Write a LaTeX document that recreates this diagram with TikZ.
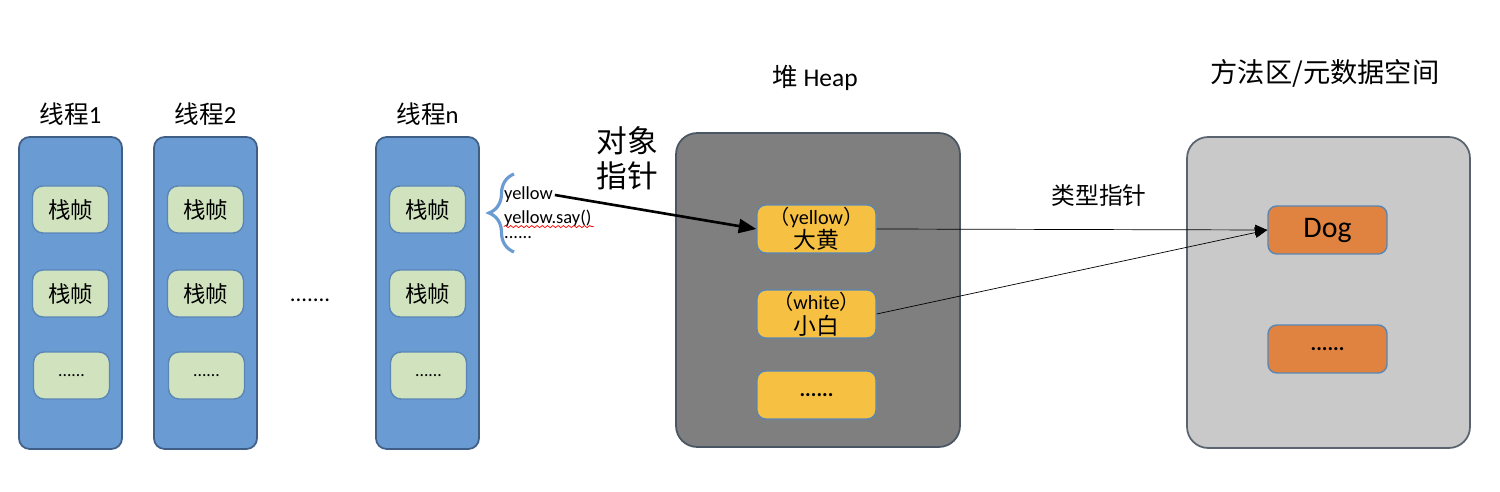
\documentclass[tikz,border=0pt]{standalone}
\usepackage{fontspec}
\setmainfont{Carlito}
\newfontfamily\cjk{Noto Sans CJK SC}
\usepackage{tikz}
\usetikzlibrary{positioning, arrows.meta, decorations.pathreplacing, decorations.pathmorphing}
\definecolor{threadblue}{HTML}{6A9BD3}
\definecolor{threadedge}{HTML}{3F5F86}
\definecolor{boxedge}{HTML}{5A86B5}
\definecolor{framegreen}{HTML}{D1E3BE}
\definecolor{heapgray}{HTML}{7F7F7F}
\definecolor{heapedge}{HTML}{4A5663}
\definecolor{objyellow}{HTML}{F6C143}
\definecolor{metagray}{HTML}{C9C9C9}
\definecolor{metaedge}{HTML}{5A6470}
\definecolor{classorange}{HTML}{E08340}
\tikzstyle{thread}=[draw=threadedge, fill=threadblue, line width=1pt, rounded corners=6pt, minimum width=2.06cm, minimum height=6.24cm]
\tikzstyle{frame}=[draw=boxedge, fill=framegreen, line width=0.8pt, rounded corners=6pt, minimum width=1.52cm, minimum height=0.94cm, inner sep=0pt, font=\cjk\fontsize{12.8}{14}\selectfont]
\tikzstyle{title}=[font=\fontsize{14}{16}\selectfont]
\tikzstyle{area}=[line width=1pt, rounded corners=12pt, minimum width=5.68cm, minimum height=6.28cm]
\tikzstyle{heap object}=[draw=boxedge, fill=objyellow, line width=0.8pt, rounded corners=5pt, minimum width=2.38cm, minimum height=0.96cm, inner sep=0pt, align=center, font=\fontsize{11.5}{14}\selectfont]
\tikzstyle{class object}=[heap object, fill=classorange, font=\fontsize{17}{18}\selectfont]
\tikzstyle{dots}=[font=\bfseries\fontsize{12}{14}\selectfont]
\tikzstyle{code}=[anchor=west, inner sep=1pt, font=\fontsize{10.5}{12}\selectfont]
\tikzstyle{spell}=[red, line width=0.4pt, decorate, decoration={snake, segment length=3pt, amplitude=0.6pt}]
\tikzstyle{stack brace}=[threadblue, line width=1.8pt, decorate, decoration={brace, amplitude=0.5cm}]
\tikzstyle{object pointer}=[-{Triangle[length=10pt,width=8pt]}, line width=1.5pt]
\tikzstyle{type pointer}=[-{Triangle[length=7pt,width=6pt]}, line width=0.4pt]

\begin{document}
\begin{tikzpicture}[x=0.02cm, y=-0.02cm]

			\path[use as bounding box, fill=white] (0,0) rectangle (1500,492);

			% Draw the thread stacks with their frames
			\foreach \name / \x in {1/70.5, 2/205.5, n/427.5} {
			\node[thread] (T-\name) at (\x,293) {};
			\node[title] (L-\name) at (\x,114) {{\cjk 线程}\name};
			\node[frame] (F-\name-1) at (\x,209.5) {栈帧};
			\node[frame] (F-\name-2) at (\x,293.5) {栈帧};
			\node[frame, font=\fontsize{10}{12}\selectfont] (F-\name-3) at (\x+1,375.5) {......};
			}
			\node[font=\fontsize{13}{15}\selectfont] (more) at (310,300) {.......};

			% Local variables of the frame
			\draw[stack brace] (514,252) -- (514,174);
			\node[code] (code-1) at (502,195) {yellow};
			\node[code] (code-2) at (502,218) {yellow.say()};
			\node[code] (code-3) at (502,238) {......};
			\draw[spell] ([xshift=1pt,yshift=1pt]code-2.south west) -- ([yshift=1pt]code-2.south east);
			\node[font=\cjk\fontsize{17.5}{20}\selectfont, align=center] (obj-ptr) at (627,158) {对象\\指针};

			% Draw the heap
			\node[area, draw=heapedge, fill=heapgray] (heap) at (818,290) {};
			\node[font=\fontsize{14.5}{17}\selectfont] (heap-title) at (815,78) {{\cjk 堆} Heap};
			\node[heap object] (Y-1) at (816.5,229) {{\cjk （}yellow{\cjk ）}\\{\cjk\fontsize{13}{14}\selectfont 大黄}};
			\node[heap object] (Y-2) at (816.5,314) {{\cjk （}white{\cjk ）}\\{\cjk\fontsize{13}{14}\selectfont 小白}};
			\node[heap object, dots] (Y-3) at (816.5,395) {......};

			% Draw the method area
			\node[area, draw=metaedge, fill=metagray, minimum width=5.66cm, minimum height=6.22cm] (meta) at (1328.5,292.5) {};
			\node[font=\cjk\fontsize{15.5}{18}\selectfont] (meta-title) at (1325,73) {方法区/元数据空间};
			\node[class object] (C-1) at (1327.5,230) {Dog};
			\node[class object, dots] (C-2) at (1327.5,349) {......};
			\node[font=\cjk\fontsize{13.5}{16}\selectfont] (type-ptr) at (1099,195) {类型指针};

			% Connect the pointers
			\draw[object pointer] (code-1.east) -- (Y-1.west);
			\draw[type pointer] (Y-1.east) -- (C-1.west);
			\draw[type pointer] (Y-2.east) -- (C-1.west);
		\end{tikzpicture}
\end{document}
